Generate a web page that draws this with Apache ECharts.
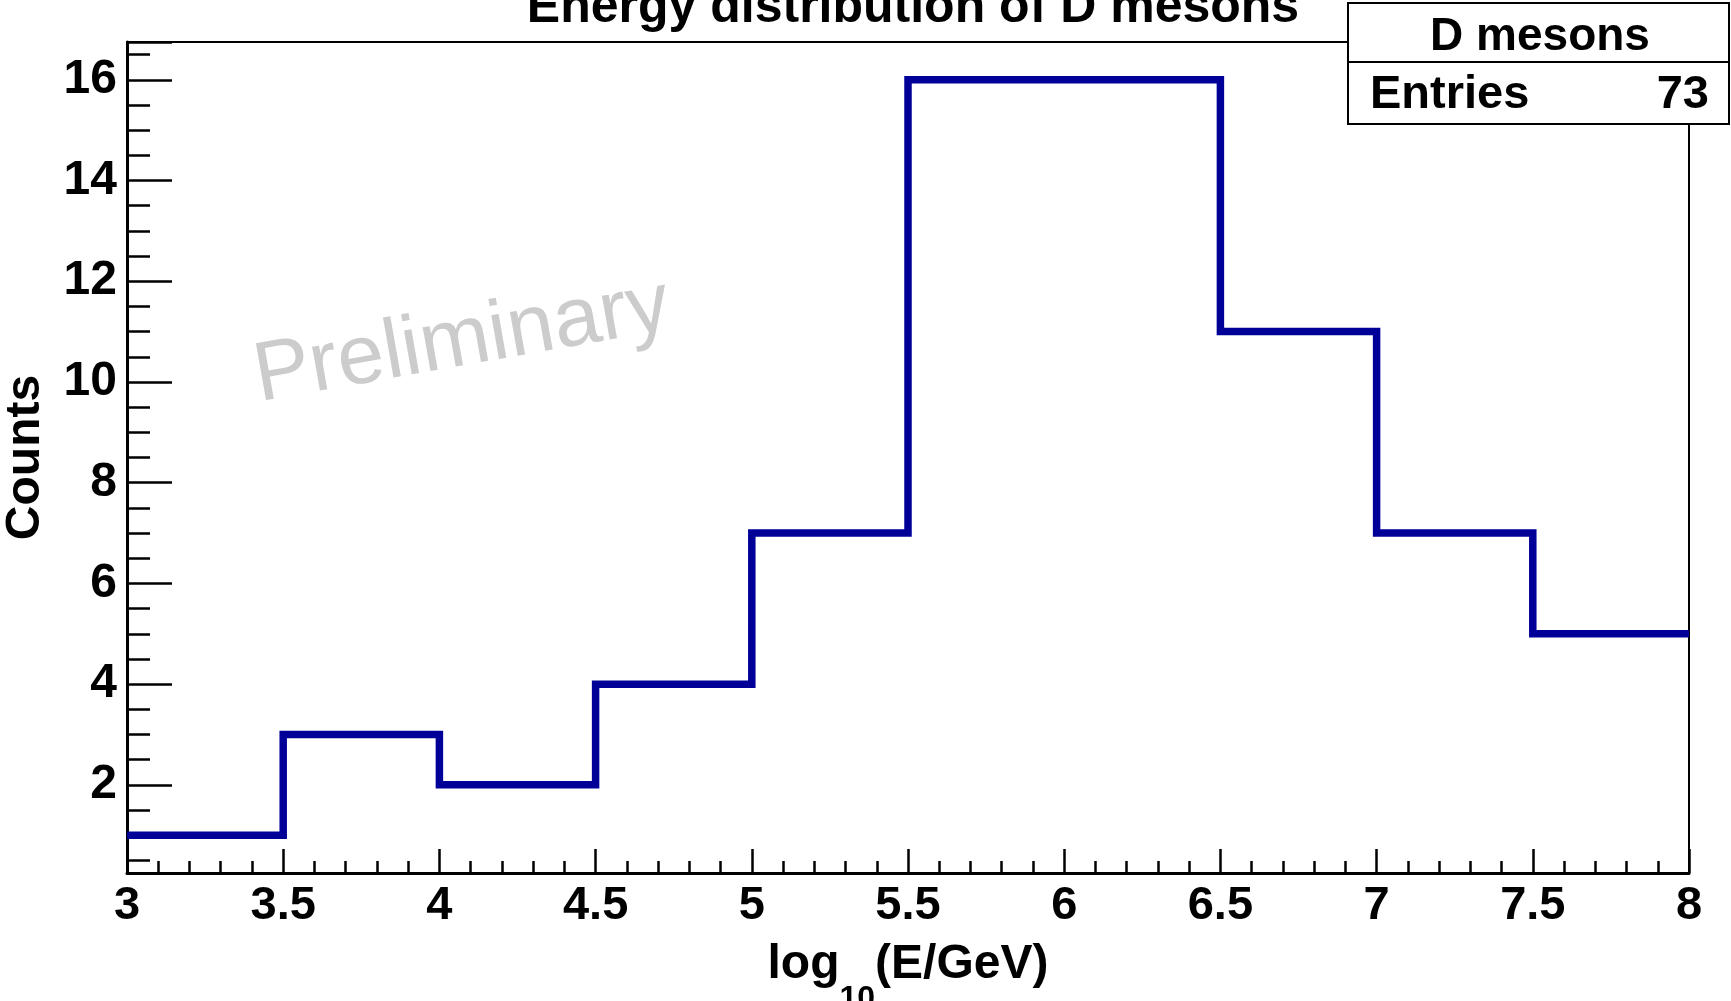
<!DOCTYPE html>
<html>
<head>
<meta charset="utf-8">
<title>Energy distribution of D mesons</title>
<script src="https://cdn.jsdelivr.net/npm/echarts@6/dist/echarts.min.js"></script>
<style>
  html, body { margin: 0; padding: 0; background: #fff; }
  #chart { width: 1731px; height: 1001px; }
</style>
</head>
<body>
<div id="chart"></div>
<script>
// histogram data, bins of width 0.5 in log10(E/GeV)
var binEdges = [3, 3.5, 4, 4.5, 5, 5.5, 6, 6.5, 7, 7.5, 8];
var counts = [1, 3, 2, 4, 7, 16, 16, 11, 7, 5];
var entries = 73;
var histName = 'D mesons';

// axis ranges (ROOT style, 5% margin around the data)
var xRange = [3, 8];
var yRange = [0.25, 16.75];

// step line points: left edge of every bin, plus the last edge
var stepData = counts.map(function (c, i) { return [binEdges[i], c]; });
stepData.push([binEdges[binEdges.length - 1], counts[counts.length - 1]]);

var FONT = 'Liberation Sans';
var chart = echarts.init(document.getElementById('chart'));

chart.setOption({
  backgroundColor: '#fff',
  animation: false,
  title: {
    text: 'Energy distribution of D mesons',
    left: 908,
    textAlign: 'center',
    top: -22,
    textStyle: { fontFamily: FONT, fontWeight: 'bold', fontSize: 50, color: '#000' }
  },
  grid: {
    left: 127, right: 42, top: 42, bottom: 128,
    outerBoundsMode: 'none',
    containLabel: false,
    show: true, borderColor: '#000', borderWidth: 2, backgroundColor: 'transparent'
  },
  xAxis: {
    type: 'value',
    min: xRange[0], max: xRange[1], interval: 0.5,
    name: '{a|log}{s|10}{a|(E/GeV)}',
    nameLocation: 'middle',
    nameGap: 42,
    nameTextStyle: {
      rich: {
        a: { fontFamily: FONT, fontWeight: 'bold', fontSize: 48, color: '#000', lineHeight: 100 },
        s: { fontFamily: FONT, fontWeight: 'bold', fontSize: 32, color: '#000', lineHeight: 34, verticalAlign: 'bottom' }
      }
    },
    axisLine: { lineStyle: { color: '#000', width: 3 } },
    axisTick: { inside: true, length: 24, lineStyle: { color: '#000', width: 2.5 } },
    minorTick: { show: true, splitNumber: 5, length: 12, lineStyle: { color: '#000', width: 2.5 } },
    axisLabel: { margin: 10, fontFamily: FONT, fontWeight: 'bold', fontSize: 47, color: '#000' },
    splitLine: { show: false }
  },
  yAxis: {
    type: 'value',
    min: yRange[0], max: yRange[1], splitNumber: 8,
    name: 'Counts',
    nameLocation: 'middle',
    nameGap: 77,
    nameTextStyle: { fontFamily: FONT, fontWeight: 'bold', fontSize: 48, color: '#000' },
    axisLine: { show: true, lineStyle: { color: '#000', width: 3 } },
    axisTick: { show: true, inside: true, length: 45, lineStyle: { color: '#000', width: 2.5 } },
    minorTick: { show: true, splitNumber: 4, length: 23, lineStyle: { color: '#000', width: 2.5 } },
    axisLabel: {
      margin: 10, showMinLabel: false, showMaxLabel: false,
      fontFamily: FONT, fontWeight: 'bold', fontSize: 48, color: '#000'
    },
    splitLine: { show: false }
  },
  series: [{
    name: histName,
    type: 'line',
    step: 'end',
    symbol: 'none',
    data: stepData,
    lineStyle: { color: '#000099', width: 7.5, join: 'miter' },
    z: 1
  }],
  graphic: [
    // watermark
    {
      type: 'text',
      x: 462, y: 342,
      rotation: 10 * Math.PI / 180,
      style: {
        text: 'Preliminary', fill: '#cccccc',
        font: 'normal 84px "Liberation Sans"',
        align: 'center', verticalAlign: 'middle'
      },
      z: 0
    },
    // stats box
    {
      type: 'rect',
      shape: { x: 1348, y: 3, width: 381, height: 121 },
      style: { fill: '#fff', stroke: '#000', lineWidth: 2 },
      z: 10
    },
    {
      type: 'line',
      shape: { x1: 1348, y1: 62, x2: 1729, y2: 62 },
      style: { stroke: '#000', lineWidth: 2 },
      z: 11
    },
    {
      type: 'text', x: 1540, y: 37, z: 11,
      style: { text: histName, fill: '#000', font: 'bold 46px "Liberation Sans"', align: 'center', verticalAlign: 'middle' }
    },
    {
      type: 'text', x: 1370, y: 95, z: 11,
      style: { text: 'Entries', fill: '#000', font: 'bold 47px "Liberation Sans"', align: 'left', verticalAlign: 'middle' }
    },
    {
      type: 'text', x: 1709, y: 95, z: 11,
      style: { text: String(entries), fill: '#000', font: 'bold 47px "Liberation Sans"', align: 'right', verticalAlign: 'middle' }
    }
  ]
});
</script>
</body>
</html>
